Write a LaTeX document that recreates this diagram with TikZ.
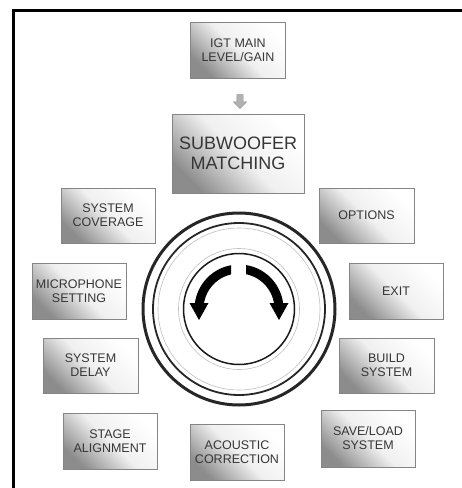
\documentclass[tikz,border=0pt]{standalone}
\usepackage{fontspec}
\setmainfont{Liberation Sans}
\usetikzlibrary{shapes.arrows,calc}
\definecolor{txt}{HTML}{363636}
\definecolor{edge}{HTML}{858585}
\begin{document}
\begin{tikzpicture}[x=1pt,y=-1pt,
  box/.style={draw=edge, line width=0.8pt, top color=white, bottom color=black!45,
    middle color=black!6, shading angle=-45, minimum width=94pt, minimum height=56pt, inner sep=0pt,
    align=center, font=\fontsize{12.5}{14}\selectfont, text=txt},
  bigbox/.style={box, minimum width=132pt, minimum height=79pt,
    font=\fontsize{18}{19.5}\selectfont},
  knobarrow/.style={line width=9pt, black},
  smallarrow/.style={single arrow, rotate=-90, draw=gray!85, fill=gray!60,
    minimum height=14pt, minimum width=13pt, inner sep=3pt,
    single arrow head extend=3.5pt, single arrow head indent=0pt}]
\useasboundingbox (0,0) rectangle (462,488);
% frame
\draw[line width=3pt, line join=miter] (475,10) -- (13,10) -- (13,500);
% boxes
\node[box, minimum width=95pt] (igt) at (238,50) {IGT MAIN\\LEVEL/GAIN};
\node[bigbox] (sub) at (238,153.5) {SUBWOOFER\\MATCHING};
\node[smallarrow] (arr) at (240,100) {};
\node[box, minimum height=55pt] (cov) at (108,215.5) {SYSTEM\\COVERAGE};
\node[box, minimum width=95pt, minimum height=55pt] (opt) at (366.5,215.5) {OPTIONS};
\node[box] (mic) at (79,291) {MICROPHONE\\SETTING};
\node[box] (exit) at (396,291) {EXIT};
\node[box, minimum width=95pt, minimum height=55pt] (delay) at (90.5,365.5) {SYSTEM\\DELAY};
\node[box, minimum width=95pt, minimum height=55pt] (build) at (386.5,365.5) {BUILD\\SYSTEM};
\node[box] (stage) at (110,441) {STAGE\\ALIGNMENT};
\node[box] (acou) at (237,452) {ACOUSTIC\\CORRECTION};
\node[box, minimum height=57pt] (save) at (368,438.5) {SAVE/LOAD\\SYSTEM};
% knob
\coordinate (c) at (239,309);
\draw[line width=3pt, black!85] (c) circle[radius=96];
\draw[line width=1.8pt, black!85] (c) circle[radius=86];
\draw[line width=0.6pt, black!25] (c) circle[radius=81];
\draw[line width=0.6pt, black!25] (c) circle[radius=60.5];
\draw[line width=1.5pt, black!90] (c) circle[radius=55.5];
% rotation arrows (ends cut vertically)
\begin{scope}
\clip (150,250) rectangle (231,330);
\draw[knobarrow] ([shift={(-92:40)}]c) arc[start angle=-92, end angle=-180, radius=40];
\end{scope}
\fill[black] (189.5,303) -- (208.5,303) -- (199,320) -- cycle;
\begin{scope}
\clip (246,250) rectangle (330,330);
\draw[knobarrow] ([shift={(-88:40)}]c) arc[start angle=-88, end angle=0, radius=40];
\end{scope}
\fill[black] (269.5,303) -- (288.5,303) -- (279,320) -- cycle;
\end{tikzpicture}
\end{document}
